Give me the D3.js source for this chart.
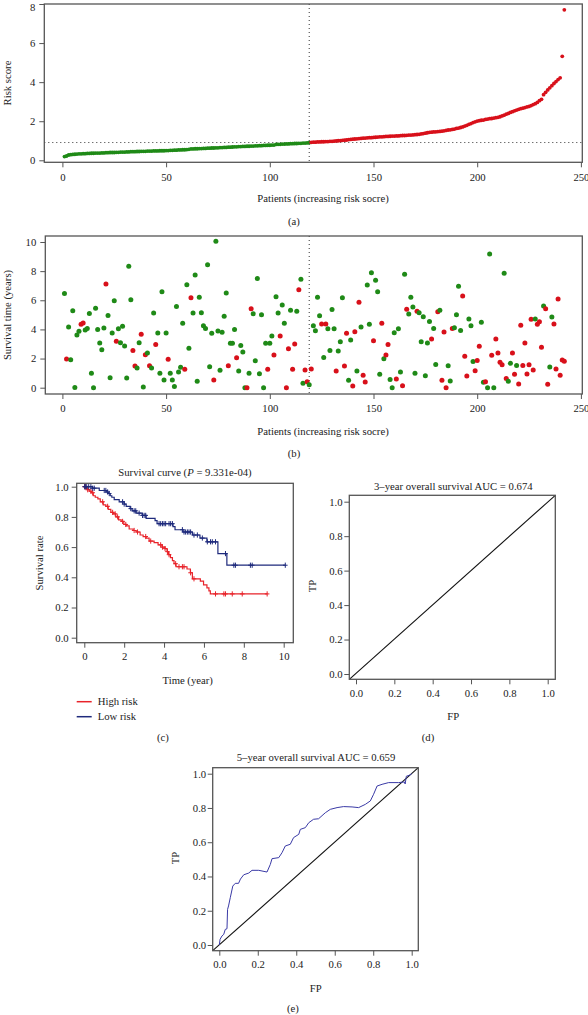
<!DOCTYPE html>
<html><head><meta charset="utf-8">
<script src="https://cdn.jsdelivr.net/npm/d3@7"></script>
<style>
body{margin:0;background:#fff}
svg{display:block}
text{font-family:"Liberation Serif","Times New Roman",serif;fill:#222}
</style>
</head><body>
<svg id="c" width="588" height="1015"></svg>
<script>
// ---------------- DATA ----------------
const riskScore = [
0.19,0.22,0.27,0.29,0.30,0.31,0.32,0.33,0.33,0.34,
0.34,0.35,0.35,0.36,0.36,0.37,0.37,0.37,0.38,0.38,
0.39,0.39,0.40,0.40,0.40,0.41,0.41,0.42,0.42,0.42,
0.43,0.43,0.44,0.44,0.44,0.45,0.45,0.46,0.46,0.46,
0.47,0.47,0.47,0.48,0.48,0.48,0.49,0.49,0.49,0.50,
0.50,0.51,0.51,0.52,0.52,0.53,0.53,0.54,0.54,0.55,
0.56,0.58,0.58,0.59,0.59,0.60,0.60,0.61,0.61,0.62,
0.62,0.63,0.63,0.64,0.64,0.65,0.65,0.66,0.66,0.67,
0.67,0.68,0.69,0.69,0.70,0.70,0.71,0.71,0.72,0.72,
0.73,0.73,0.74,0.74,0.75,0.75,0.76,0.76,0.77,0.77,
0.78,0.78,0.81,0.82,0.82,0.83,0.83,0.84,0.84,0.85,
0.85,0.86,0.86,0.87,0.87,0.88,0.88,0.89,0.90,
0.92,0.93,0.93,0.94,0.94,0.95,0.95,0.96,0.96,0.97,0.97,
0.98,0.99,1.00,1.01,1.02,1.03,1.04,1.06,1.07,1.08,
1.09,1.10,1.11,1.12,1.13,1.14,1.15,1.16,1.16,1.17,
1.18,1.19,1.20,1.20,1.21,1.22,1.22,1.23,1.24,1.24,
1.25,1.25,1.26,1.27,1.27,1.28,1.29,1.29,1.30,1.31,
1.32,1.33,1.35,1.37,1.39,1.41,1.43,1.44,1.45,1.46,
1.47,1.48,1.49,1.51,1.53,1.55,1.56,1.58,1.60,1.63,
1.65,1.68,1.71,1.75,1.79,1.84,1.88,1.93,1.97,2.01,
2.03,2.05,2.06,2.09,2.11,2.13,2.14,2.16,2.18,2.20,
2.23,2.27,2.31,2.36,2.40,2.45,2.49,2.53,2.57,2.61,
2.64,2.67,2.70,2.73,2.76,2.80,2.85,2.90,2.96,3.05,
3.12,3.36,3.48,3.60,3.71,3.82,3.93,4.03,4.13,4.22,
5.32,7.70];
const lowRiskCount = 119;

const survivalYears = [
6.47,1.97,4.16,1.92,5.28,0.02,3.61,3.87,4.35,4.44,
3.96,4.07,5.10,0.99,0.00,5.45,4.00,3.07,2.61,4.10,
7.12,4.96,0.69,3.75,5.97,3.18,4.05,3.09,4.21,2.86,
0.66,8.33,6.04,2.56,1.49,1.35,3.09,3.66,0.05,2.26,
2.38,1.51,1.35,5.12,2.97,3.75,0.99,6.59,0.53,3.75,
1.95,0.99,0.53,0.09,5.58,1.08,1.40,4.42,1.26,7.07,
2.70,6.18,5.12,7.73,0.44,6.20,5.15,4.25,4.07,8.44,
1.44,3.73,0.53,10.05,3.90,1.20,3.80,4.90,6.50,1.50,
3.05,3.05,4.00,2.05,1.15,2.90,2.45,0.00,0.00,1.00,
5.42,5.08,1.85,7.50,0.95,5.00,0.00,3.05,1.27,3.05,
3.55,2.25,6.25,5.12,3.55,5.68,4.42,0.00,2.67,5.32,
1.27,3.00,5.25,6.72,7.45,0.30,1.21,0.41,0.20,1.28,
4.26,3.91,6.20,4.94,4.37,2.08,4.37,4.05,2.56,5.36,
4.05,1.15,2.52,3.16,6.18,1.49,3.73,0.51,3.27,0.12,
3.84,1.15,5.86,4.16,0.85,0.39,7.05,4.35,7.89,3.23,
7.37,6.59,0.92,4.42,1.99,2.24,2.97,0.57,0.00,3.78,
0.60,4.05,1.08,0.14,7.78,5.38,5.05,6.20,5.54,0.99,
5.24,5.15,3.16,4.87,0.82,3.07,4.55,3.34,4.07,1.60,
5.22,5.31,0.51,3.82,0.00,1.51,0.46,4.07,4.12,5.00,
6.96,3.93,6.30,2.15,0.80,4.71,4.26,1.79,1.17,1.86,
2.84,4.50,0.37,0.41,0.00,9.17,2.22,0.00,3.34,2.38,
1.74,1.58,7.85,0.64,0.44,1.67,2.38,0.92,1.53,0.25,
4.28,1.53,3.07,0.94,1.58,4.69,1.21,4.71,4.35,4.53,
2.77,5.60,5.42,0.23,1.42,4.85,4.37,1.28,6.09,0.85,
1.90,1.81];
// 1 = dead (red), 0 = alive (green)
const deadStatus = [
0,1,0,0,0,0,0,0,1,1, 0,0,0,0,0,0,0,0,0,0,
1,0,0,0,0,1,0,0,0,0, 0,0,0,1,1,0,0,1,0,1,
0,1,0,0,1,0,0,0,0,0, 1,0,0,0,0,0,0,0,1,0,
0,1,0,0,0,0,0,0,0,0, 0,0,1,0,0,0,0,0,0,1,
0,0,0,1,0,0,0,0,1,0, 1,0,0,0,0,0,0,0,1,0,
0,1,0,0,1,0,0,1,1,0, 1,1,0,1,0,0,1,1,0,1,
0,0,0,0,1,0,1,0,0,0, 0,1,0,0,0,1,1,0,0,1,
1,0,1,0,1,1,0,0,0,1, 0,0,0,1,0,1,1,0,0,0,
1,0,0,1,0,1,0,0,0,0, 1,0,0,0,0,0,0,1,0,0,
1,0,1,1,1,0,0,1,0,0, 0,0,1,1,1,0,0,0,1,1,
1,0,0,1,0,0,1,0,1,1, 1,1,0,1,0,0,1,1,0,1,
1,1,1,1,1,1,1,0,1,1, 1,0,1,1,0,0,1,1,1,1,
1,1];

const riskTicks = [0,2,4,6,8];
const patientTicks = [0,50,100,150,200,250];
const survTimeTicks = [0,2,4,6,8,10];

// Kaplan-Meier step points
const highTime = [0,0.08,0.15,0.25,0.35,0.45,0.55,0.68,0.80,0.95,1.08,1.20,1.33,1.45,1.58,1.72,1.85,1.98,2.10,2.25,2.45,2.60,2.80,2.95,3.10,3.25,3.50,3.70,3.90,4.05,4.15,4.22,4.32,4.42,4.50,4.60,5.15,5.32,5.42,5.82,5.98,6.15,6.25,6.32];
const highSurv = [1.00,0.99,0.98,0.97,0.96,0.94,0.93,0.92,0.90,0.88,0.87,0.85,0.83,0.82,0.80,0.78,0.77,0.75,0.74,0.72,0.71,0.70,0.68,0.67,0.66,0.64,0.63,0.615,0.60,0.59,0.57,0.55,0.53,0.51,0.49,0.47,0.455,0.43,0.39,0.375,0.35,0.33,0.31,0.29];
const highCensor = [0.02,0.05,0.17,0.33,0.42,0.92,1.17,1.42,1.55,1.67,1.92,2.08,2.50,2.67,3.08,3.33,3.83,3.92,4.05,4.17,4.25,4.58,4.75,4.92,5.00,5.33,5.50,6.58,7.00,7.08,7.42,7.92,9.17];
const lowTime = [0,0.40,0.75,1.10,1.20,1.30,1.38,1.50,1.75,2.00,2.10,2.30,2.40,2.60,2.90,3.10,3.55,3.65,4.45,4.55,4.95,5.42,5.80,6.15,6.70,7.15];
const lowSurv = [1.00,0.99,0.975,0.965,0.955,0.94,0.93,0.915,0.90,0.885,0.87,0.855,0.84,0.825,0.81,0.79,0.775,0.755,0.735,0.715,0.70,0.68,0.66,0.635,0.557,0.48];
const lowCensor = [0.02,0.05,0.12,0.22,0.33,0.42,0.50,1.00,1.08,1.17,1.25,1.92,2.00,2.33,2.50,2.58,2.75,2.92,3.00,3.08,3.75,3.83,3.92,4.00,4.08,4.25,4.33,4.42,4.92,5.00,5.08,5.17,5.25,5.33,5.50,5.67,5.92,6.17,6.33,6.42,6.58,7.08,7.50,7.58,8.33,8.42,10.08];
const kmTimeTicks = [0,2,4,6,8,10];
const probTicks = [0,0.2,0.4,0.6,0.8,1.0];
const kmLegend = ["High risk","Low risk"];

// 5-year ROC
const roc5FP = [0,0.004,0.014,0.023,0.031,0.040,0.043,0.048,0.057,0.070,0.083,0.100,0.110,0.127,0.153,0.170,0.205,0.248,0.265,0.274,0.309,0.326,0.343,0.369,0.386,0.413,0.421,0.447,0.465,0.490,0.516,0.551,0.577,0.612,0.646,0.690,0.724,0.759,0.785,0.802,0.820,0.846,0.880,0.932,0.962,0.966,0.972,0.990,1.000];
const roc5TP = [0,0.033,0.053,0.062,0.091,0.095,0.208,0.228,0.276,0.344,0.360,0.360,0.385,0.410,0.420,0.436,0.436,0.426,0.470,0.504,0.510,0.539,0.578,0.588,0.627,0.646,0.675,0.685,0.714,0.734,0.737,0.772,0.792,0.802,0.808,0.806,0.802,0.821,0.841,0.880,0.928,0.938,0.948,0.948,0.952,0.940,0.985,0.992,1.000];
const rocTicks = [0,0.2,0.4,0.6,0.8,1.0];

// ---------------- DRAWING ----------------
const GREEN = "#1f8a17", RED = "#d8101a";
const KM_RED = "#e8232a", KM_BLUE = "#1e2a7c", ROC_BLUE = "#3a3aa6";
const FS = 10.7;
const svg = d3.select("#c");

function frame(x0,y0,x1,y1){
  svg.append("rect").attr("x",x0).attr("y",y0).attr("width",x1-x0).attr("height",y1-y0)
    .attr("fill","none").attr("stroke","#555").attr("stroke-width",1.3);
}
function styleAxis(g){
  g.attr("font-family",null).attr("font-size",null);
  g.select(".domain").remove();
  g.selectAll("line").attr("stroke","#555").attr("stroke-width",1);
  g.selectAll("text").attr("font-size",FS).attr("fill","#222");
}
function bottomAxis(scale,ticks,fmt,y,pad){
  return svg.append("g").attr("transform",`translate(0,${y})`)
    .call(d3.axisBottom(scale).tickValues(ticks).tickFormat(fmt).tickSize(5).tickPadding(pad))
    .call(styleAxis);
}
function leftAxis(scale,ticks,fmt,x,pad){
  return svg.append("g").attr("transform",`translate(${x},0)`)
    .call(d3.axisLeft(scale).tickValues(ticks).tickFormat(fmt).tickSize(5).tickPadding(pad))
    .call(styleAxis);
}
function label(txt,x,y,rot){
  const t = svg.append("text").attr("x",x).attr("y",y).attr("dy","0.35em")
    .attr("text-anchor","middle").attr("font-size",FS).text(txt);
  if(rot) t.attr("transform",`rotate(-90,${x},${y})`);
  return t;
}
const f0 = d3.format("d"), f1 = d3.format(".1f");
const idx = riskScore.map((d,i)=>i+1);

// ---- (a) risk score ----
{
  const x = d3.scaleLinear().domain([0,250]).range([62.4,580.9]);
  const y = d3.scaleLinear().domain([0,8]).range([160.3,4]);
  const box = [44.3,4,582.3,162.3];
  const cut = (riskScore[lowRiskCount-1]+riskScore[lowRiskCount])/2;
  svg.append("line").attr("x1",box[0]).attr("x2",box[2]).attr("y1",y(cut)).attr("y2",y(cut))
    .attr("stroke","#333").attr("stroke-dasharray","1,3");
  svg.append("line").attr("x1",x(lowRiskCount)).attr("x2",x(lowRiskCount)).attr("y1",box[1]).attr("y2",box[3])
    .attr("stroke","#333").attr("stroke-dasharray","1,3");
  svg.append("g").selectAll("circle").data(riskScore).join("circle")
    .attr("cx",(d,i)=>x(idx[i])).attr("cy",d=>y(d)).attr("r",1.9)
    .attr("fill",(d,i)=>idx[i]<=lowRiskCount?GREEN:RED);
  frame(...box);
  const ya = leftAxis(y,riskTicks,f0,box[0],4);
  ya.selectAll("text").filter(d=>d===8).attr("dy","0.62em");
  bottomAxis(x,patientTicks,f0,box[3],6);
  label("Risk score",7,83,true);
  label("Patients (increasing risk socre)",323,198.5);
  label("(a)",294,221);
}

// ---- (b) survival time scatter ----
{
  const x = d3.scaleLinear().domain([0,250]).range([62.4,580.9]);
  const y = d3.scaleLinear().domain([0,10]).range([387.7,242]);
  const box = [45.3,236,582.3,394];
  svg.append("line").attr("x1",x(lowRiskCount)).attr("x2",x(lowRiskCount)).attr("y1",box[1]).attr("y2",box[3])
    .attr("stroke","#333").attr("stroke-dasharray","1,3");
  svg.append("g").selectAll("circle").data(survivalYears).join("circle")
    .attr("cx",(d,i)=>x(idx[i])).attr("cy",d=>y(d)).attr("r",2.5)
    .attr("fill",(d,i)=>deadStatus[i]?RED:GREEN);
  frame(...box);
  leftAxis(y,survTimeTicks,f0,box[0],4);
  bottomAxis(x,patientTicks,f0,box[3],5.5);
  label("Survival time (years)",7,315,true);
  label("Patients (increasing risk socre)",323,431.7);
  label("(b)",294,453.3);
}

// ---- (c) Kaplan-Meier ----
{
  const x = d3.scaleLinear().domain([0,10]).range([84.3,283.7]);
  const y = d3.scaleLinear().domain([0,1]).range([637.7,486.7]);
  const box = [76.7,483.3,293.3,642.7];
  const stepLine = d3.line().curve(d3.curveStepAfter).x(d=>x(d[0])).y(d=>y(d[1]));
  function survAt(T,S,t){let s=1;for(let i=0;i<T.length;i++) if(T[i]<=t) s=S[i];return s;}
  const groups = [
    {T:highTime,S:highSurv,C:highCensor,col:KM_RED},
    {T:lowTime,S:lowSurv,C:lowCensor,col:KM_BLUE}
  ];
  groups.forEach(g=>{
    const end = d3.max(g.C);
    const pts = g.T.map((t,i)=>[t,g.S[i]]);
    pts.push([end,g.S[g.S.length-1]]);
    svg.append("path").attr("d",stepLine(pts)).attr("fill","none").attr("stroke",g.col).attr("stroke-width",1.2);
    const cg = svg.append("g").attr("stroke",g.col).attr("stroke-width",1);
    g.C.forEach(t=>{
      const cx = x(t), cy = y(survAt(g.T,g.S,t));
      cg.append("line").attr("x1",cx).attr("x2",cx).attr("y1",cy-2.6).attr("y2",cy+2.6);
      cg.append("line").attr("x1",cx-2.3).attr("x2",cx+2.3).attr("y1",cy).attr("y2",cy);
    });
  });
  frame(...box);
  leftAxis(y,probTicks,f1,box[0],3);
  bottomAxis(x,kmTimeTicks,f0,box[3],5);
  const tt = svg.append("text").attr("x",185).attr("y",472).attr("dy","0.35em").attr("text-anchor","middle").attr("font-size",FS);
  tt.append("tspan").text("Survival curve (");
  tt.append("tspan").attr("font-style","italic").text("P");
  tt.append("tspan").text(" = 9.331e-04)");
  label("Survival rate",39.7,563,true);
  label("Time (year)",187.7,680);
  const lc = [KM_RED,KM_BLUE];
  kmLegend.forEach((n,i)=>{
    const ly = 701.7 + i*15;
    svg.append("line").attr("x1",76.7).attr("x2",91.7).attr("y1",ly).attr("y2",ly).attr("stroke",lc[i]).attr("stroke-width",1.5);
    svg.append("text").attr("x",97.7).attr("y",ly).attr("dy","0.35em").attr("font-size",FS).text(n);
  });
  label("(c)",163,737);
}

// ---- (d) 3-year ROC ----
{
  const x = d3.scaleLinear().domain([0,1]).range([356,547.7]);
  const y = d3.scaleLinear().domain([0,1]).range([674,501.7]);
  const box = [349.3,495.3,555.3,679.3];
  svg.append("line").attr("x1",box[0]).attr("y1",box[3]).attr("x2",box[2]).attr("y2",box[1])
    .attr("stroke","#111").attr("stroke-width",1.1);
  frame(...box);
  leftAxis(y,rocTicks,f1,box[0],1.8);
  bottomAxis(x,rocTicks,f1,box[3],4.7);
  label("3\u2013year overall survival AUC = 0.674",453.3,486.7);
  label("TP",312.7,586,true);
  label("FP",453.3,716);
  label("(d)",428,737);
}

// ---- (e) 5-year ROC ----
{
  const x = d3.scaleLinear().domain([0,1]).range([219.3,411.7]);
  const y = d3.scaleLinear().domain([0,1]).range([945,773.7]);
  const box = [212.7,767.7,418.3,950.7];
  svg.append("line").attr("x1",box[0]).attr("y1",box[3]).attr("x2",box[2]).attr("y2",box[1])
    .attr("stroke","#111").attr("stroke-width",1.1);
  const line = d3.line().x(d=>x(d[0])).y(d=>y(d[1]));
  svg.append("path").attr("d",line(roc5FP.map((f,i)=>[f,roc5TP[i]])))
    .attr("fill","none").attr("stroke",ROC_BLUE).attr("stroke-width",1);
  frame(...box);
  leftAxis(y,rocTicks,f1,box[0],1.5);
  bottomAxis(x,rocTicks,f1,box[3],4.6);
  label("5\u2013year overall survival AUC = 0.659",316,757.3);
  label("TP",175,858,true);
  label("FP",315.7,988.3);
  label("(e)",293,1008.3);
}
</script>
</body></html>
